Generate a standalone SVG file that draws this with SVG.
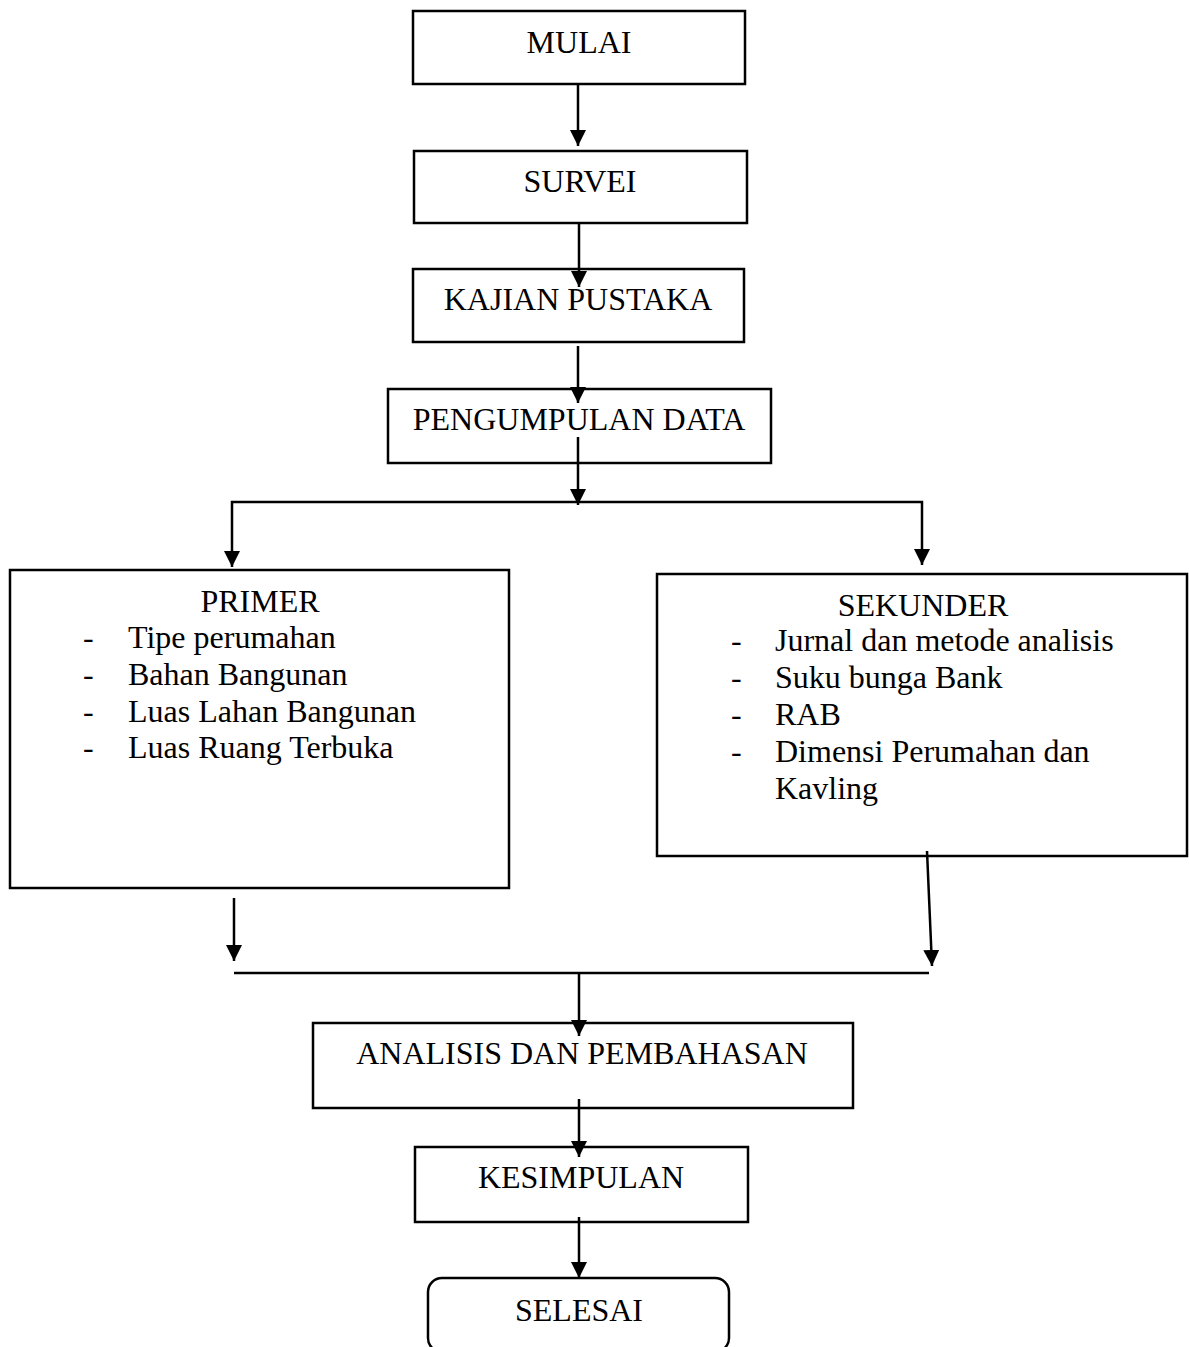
<svg xmlns="http://www.w3.org/2000/svg" width="1189" height="1347" viewBox="0 0 1189 1347">
<style>
.box{fill:#fff;stroke:#000;stroke-width:2.5}
.t{font-family:"Liberation Serif","Times New Roman",serif;font-size:32px;fill:#000}
.c{text-anchor:middle}
.ln{fill:none;stroke:#000;stroke-width:2.5}
</style>
<defs>
<marker id="ah" viewBox="0 0 16 16" refX="16" refY="8" markerWidth="16" markerHeight="16" orient="auto" markerUnits="userSpaceOnUse">
<path d="M0,0 L16,8 L0,16 z" fill="#000"/>
</marker>
</defs>
<g id="mulai"><rect class="box" x="413" y="11" width="332" height="73"/><text class="t c" x="579" y="53">MULAI</text></g>
<g id="survei"><rect class="box" x="414" y="151" width="333" height="72"/><text class="t c" x="580" y="192">SURVEI</text></g>
<g id="kajian"><rect class="box" x="413" y="269" width="331" height="73"/><text class="t c" x="578" y="310">KAJIAN PUSTAKA</text></g>
<g id="pengumpulan"><rect class="box" x="388" y="389" width="383" height="74"/><text class="t c" x="579" y="430">PENGUMPULAN DATA</text></g>
<g id="primer"><rect class="box" x="10" y="570" width="499" height="318"/>
<text class="t c" x="260" y="612">PRIMER</text>
<text class="t" x="83" y="648">-</text><text class="t" x="128" y="648">Tipe perumahan</text>
<text class="t" x="83" y="685">-</text><text class="t" x="128" y="685">Bahan Bangunan</text>
<text class="t" x="83" y="722">-</text><text class="t" x="128" y="722">Luas Lahan Bangunan</text>
<text class="t" x="83" y="758">-</text><text class="t" x="128" y="758">Luas Ruang Terbuka</text>
</g>
<g id="sekunder"><rect class="box" x="657" y="574" width="530" height="282"/>
<text class="t c" x="923" y="616">SEKUNDER</text>
<text class="t" x="731" y="651">-</text><text class="t" x="775" y="651">Jurnal dan metode analisis</text>
<text class="t" x="731" y="688">-</text><text class="t" x="775" y="688">Suku bunga Bank</text>
<text class="t" x="731" y="725">-</text><text class="t" x="775" y="725">RAB</text>
<text class="t" x="731" y="762">-</text><text class="t" x="775" y="762">Dimensi Perumahan dan</text>
<text class="t" x="775" y="799">Kavling</text>
</g>
<g id="analisis"><rect class="box" x="313" y="1023" width="540" height="85"/><text class="t c" x="582" y="1064">ANALISIS DAN PEMBAHASAN</text></g>
<g id="kesimpulan"><rect class="box" x="415" y="1147" width="333" height="75"/><text class="t c" x="581" y="1188">KESIMPULAN</text></g>
<g id="selesai"><rect class="box" x="428" y="1278" width="301" height="74" rx="14" ry="14"/><text class="t c" x="579" y="1321">SELESAI</text></g>
<g id="connectors">
<line class="ln" x1="578" y1="84" x2="578" y2="146" marker-end="url(#ah)"/>
<line class="ln" x1="579" y1="223" x2="579" y2="287" marker-end="url(#ah)"/>
<line class="ln" x1="578" y1="346" x2="578" y2="403" marker-end="url(#ah)"/>
<line class="ln" x1="578" y1="437" x2="578" y2="505" marker-end="url(#ah)"/>
<path class="ln" d="M578,502 H232 V567" marker-end="url(#ah)"/>
<path class="ln" d="M578,502 H922 V565" marker-end="url(#ah)"/>
<line class="ln" x1="234" y1="898" x2="234" y2="961" marker-end="url(#ah)"/>
<line class="ln" x1="927" y1="851" x2="932" y2="966" marker-end="url(#ah)"/>
<line class="ln" x1="234" y1="973" x2="929" y2="973"/>
<line class="ln" x1="579" y1="973" x2="579" y2="1036" marker-end="url(#ah)"/>
<line class="ln" x1="579" y1="1099" x2="579" y2="1157" marker-end="url(#ah)"/>
<line class="ln" x1="579" y1="1217" x2="579" y2="1278" marker-end="url(#ah)"/>
</g>
</svg>
